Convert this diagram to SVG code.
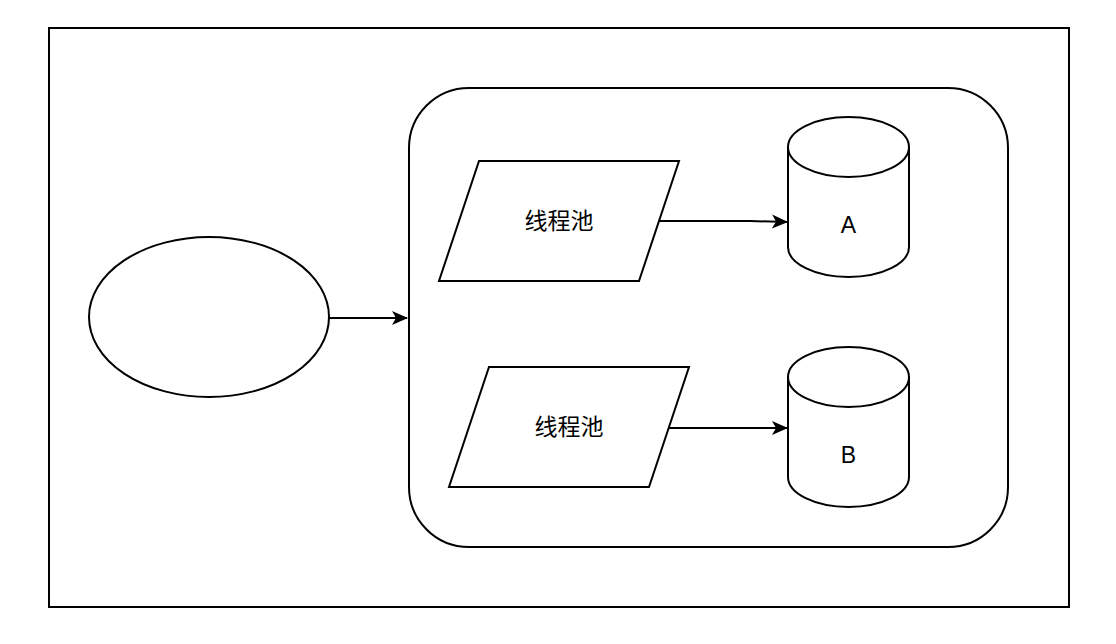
<svg xmlns="http://www.w3.org/2000/svg" width="1116" height="644" viewBox="0 0 1116 644">
<style>
.s{fill:#fff;stroke:#000;stroke-width:2}
.c{fill:none;stroke:#000;stroke-width:2}
.t{font-family:"Liberation Sans","Noto Sans CJK SC",sans-serif;font-size:23px;fill:#000;text-anchor:middle;dominant-baseline:central}
</style>
<defs>
<marker id="ah" viewBox="0 0 16 16" refX="15" refY="8" markerWidth="16" markerHeight="16" markerUnits="userSpaceOnUse" orient="auto">
<path d="M0,1 L16,8 L0,15 L4,8 Z" fill="#000"/>
</marker>
</defs>
<rect x="0" y="0" width="1116" height="644" fill="#fff"/>
<g id="frame"><rect class="s" x="49" y="28" width="1020" height="579"/></g>
<g id="container"><rect class="s" x="409" y="88" width="599" height="459" rx="60" ry="60"/></g>
<g id="ellipse"><ellipse class="s" cx="209" cy="317" rx="120" ry="80"/></g>
<g id="pool1">
<polygon class="s" points="479,161 679,161 639,281 439,281"/>
<text class="t" x="559" y="221">线程池</text>
</g>
<g id="pool2">
<polygon class="s" points="489,367 689,367 649,487 449,487"/>
<text class="t" x="569" y="427">线程池</text>
</g>
<g id="dbA">
<path class="s" d="M788,147 A60.5,30 0 0 1 909,147 L909,247 A60.5,30 0 0 1 788,247 Z"/>
<path class="c" d="M788,147 A60.5,30 0 0 0 909,147"/>
<text class="t" x="848.5" y="225">A</text>
</g>
<g id="dbB">
<path class="s" d="M788,377 A60.5,30 0 0 1 909,377 L909,477 A60.5,30 0 0 1 788,477 Z"/>
<path class="c" d="M788,377 A60.5,30 0 0 0 909,377"/>
<text class="t" x="848.5" y="455">B</text>
</g>
<g id="connectors">
<path class="c" d="M659,221 L750,221 L787,222" marker-end="url(#ah)"/>
<path class="c" d="M669,428 L787,428" marker-end="url(#ah)"/>
<path class="c" d="M329,318 L407,318" marker-end="url(#ah)"/>
</g>
</svg>
